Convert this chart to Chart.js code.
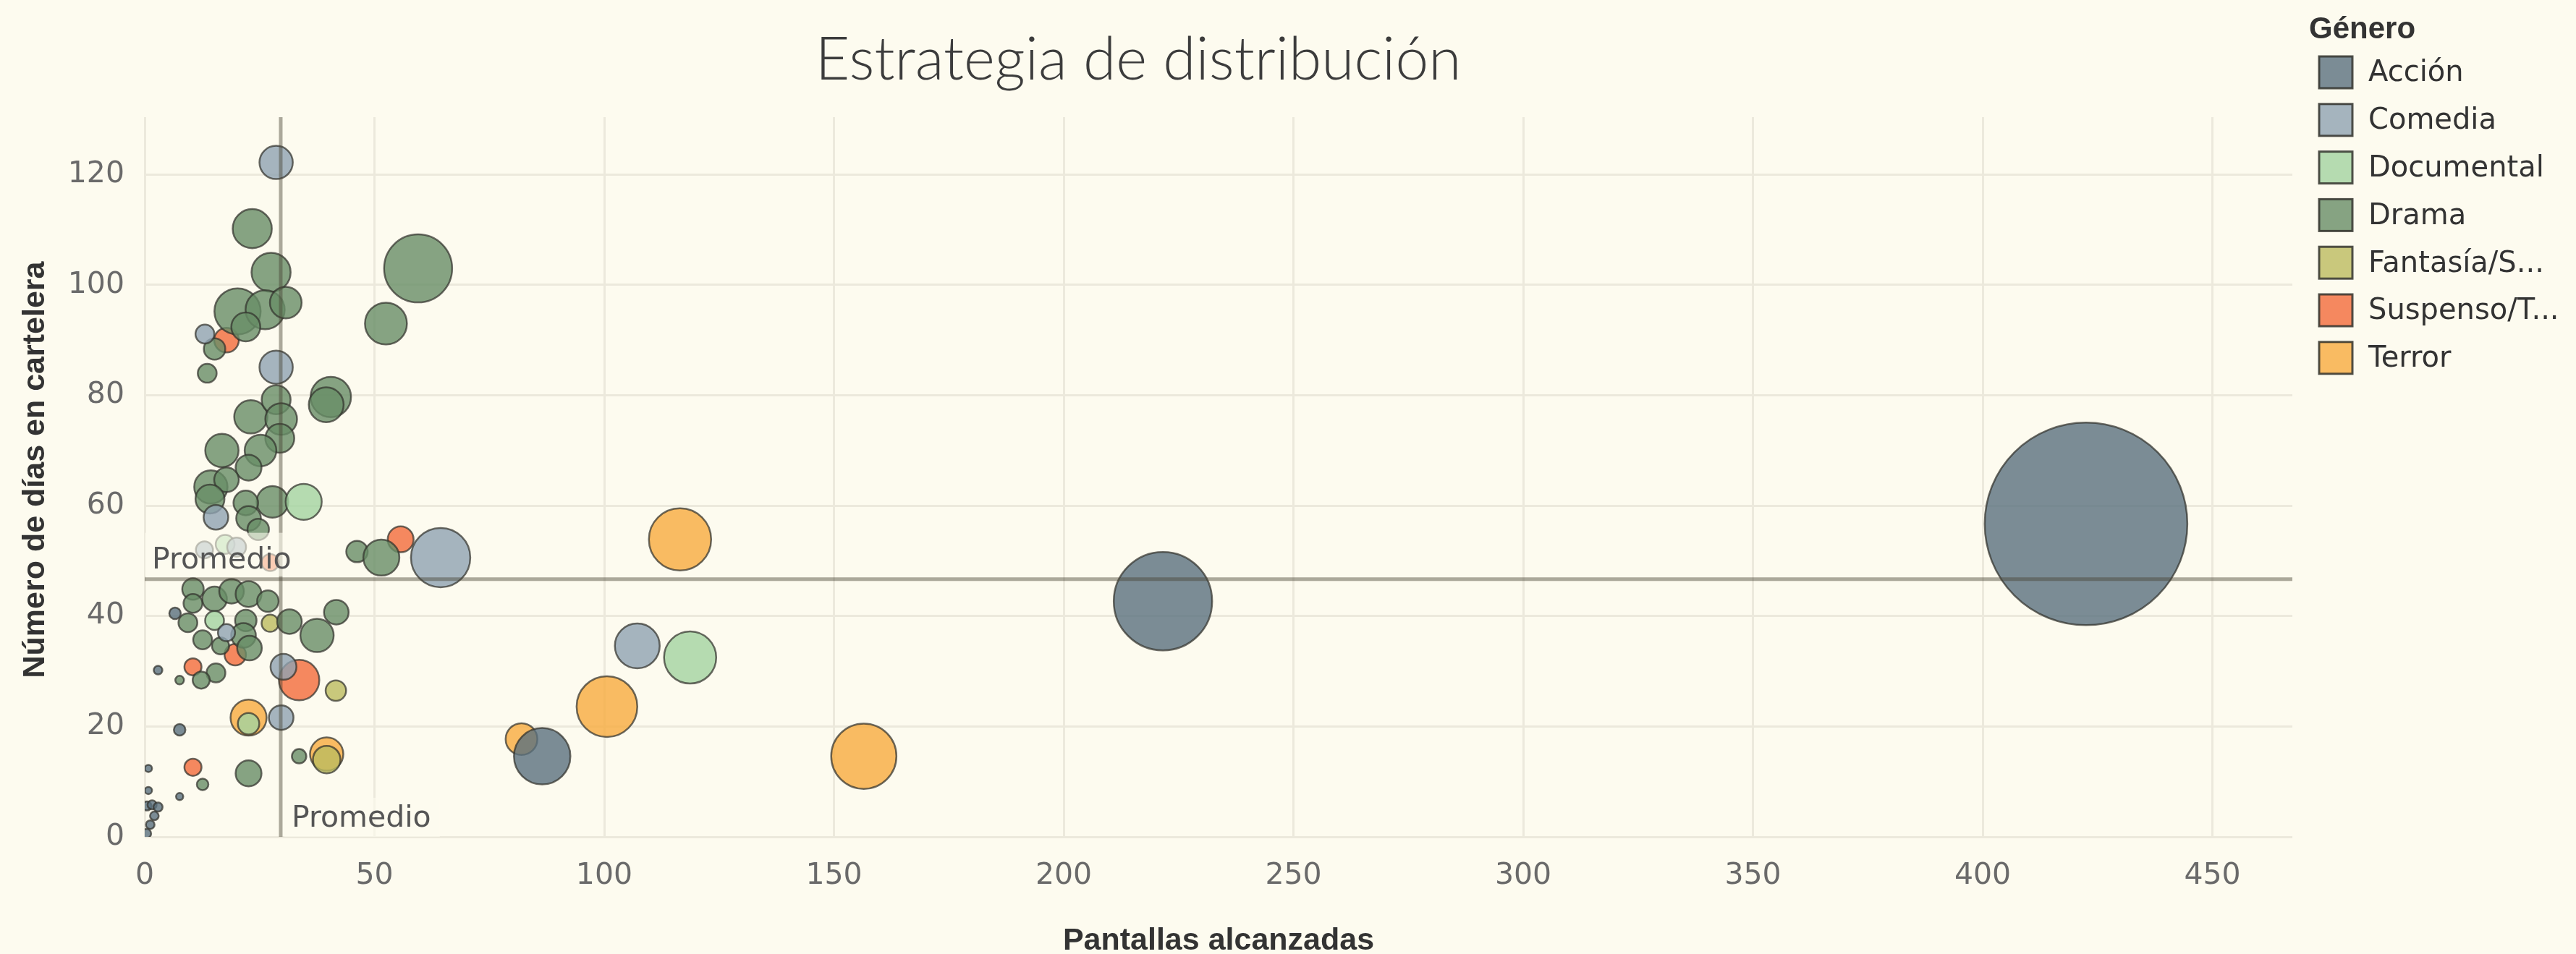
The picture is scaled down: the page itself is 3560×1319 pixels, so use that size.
<!DOCTYPE html>
<html><head><meta charset="utf-8">
<script src="https://cdn.jsdelivr.net/npm/chart.js@4.4.1/dist/chart.umd.min.js"></script>
<style>html,body{margin:0;padding:0;background:#fdfbef;}canvas{display:block;}</style>
</head><body>
<canvas id="c" width="3560" height="1319" style="width:3560px;height:1319px"></canvas>
<script>
// ---- Data ----
const generos = ['Acción', 'Comedia', 'Documental', 'Drama', 'Fantasía/S...', 'Suspenso/T...', 'Terror'];
const colores = ['#5a707e', '#8fa3b1', '#a3d3a0', '#688d67', '#bcbb5f', '#f36c3b', '#f8ab3f'];

// x = Pantallas alcanzadas, y = Número de días en cartelera, tam = medida de tamaño (área de la burbuja)
const accionX = [422.5, 221.6, 86.5, 6.6, 7.6, 2.9, 0.8, 0.8, 7.6, 0.5, 1.6, 2.9, 2.1, 1.2, 0.4];
const accionY = [56.7, 42.7, 14.6, 40.5, 19.4, 30.2, 12.4, 8.4, 7.3, 5.6, 5.8, 5.4, 3.8, 2.2, 0.6];
const accionTam = [1960, 462, 152, 6.4, 6.4, 3.6, 2.5, 2.5, 2.5, 4.0, 4.0, 4.0, 3.6, 3.6, 4.0];

const comediaX = [28.6, 28.6, 13.1, 15.5, 64.4, 107.2, 30.2, 29.7, 17.8, 13.0, 20.0];
const comediaY = [122.2, 85.1, 91.1, 57.9, 50.6, 34.6, 30.8, 21.6, 37.0, 52.0, 52.5];
const comediaTam = [53, 53, 17, 29, 168, 96, 32, 29, 14, 14, 17];

const documentalX = [34.6, 118.7, 22.6, 15.2, 17.5];
const documentalY = [60.7, 32.5, 20.5, 39.2, 53.0];
const documentalTam = [62, 130, 22, 17, 17];

const dramaX = [23.4, 27.5, 20.2, 26.2, 30.7, 22.0, 15.2, 59.5, 52.5, 13.6, 40.5, 39.5, 23.1, 28.6, 29.7, 29.4, 16.8, 25.2, 22.6, 14.4, 17.8, 14.2, 27.8, 22.0, 22.6, 24.7, 46.2, 51.5, 10.5, 15.2, 18.9, 22.6, 26.8, 10.5, 9.4, 22.0, 31.5, 41.7, 37.5, 12.6, 21.5, 16.5, 22.8, 15.5, 12.3, 22.6, 12.6, 7.6, 33.6];
const dramaY = [110.2, 102.3, 95.2, 95.5, 96.8, 92.4, 88.4, 103.0, 93.0, 84.0, 79.7, 78.3, 76.1, 79.2, 75.7, 72.2, 70.0, 70.0, 66.9, 63.4, 64.7, 61.2, 60.7, 60.5, 57.7, 55.7, 51.7, 50.6, 44.9, 43.1, 44.5, 44.0, 42.7, 42.3, 38.8, 39.2, 39.0, 40.7, 36.5, 35.7, 36.5, 34.6, 34.2, 29.7, 28.4, 11.5, 9.5, 28.4, 14.6];
const dramaTam = [73, 73, 102, 73, 48, 40, 22, 221, 84, 17, 78, 58, 53, 40, 48, 40, 53, 48, 32, 53, 29, 40, 48, 29, 29, 22, 22, 62, 22, 29, 29, 32, 22, 17, 17, 22, 29, 29, 53, 17, 29, 14, 29, 17, 14, 32, 6.4, 3.6, 10];

const fantasiaX = [27.3, 41.6, 39.6];
const fantasiaY = [38.7, 26.5, 14.0];
const fantasiaTam = [14, 20, 36];

const suspensoX = [17.8, 55.7, 19.7, 10.5, 33.6, 10.5, 27.3];
const suspensoY = [90.0, 53.9, 33.0, 30.8, 28.4, 12.6, 49.7];
const suspensoTam = [29, 32, 22, 14, 78, 14, 14];

const terrorX = [116.5, 100.6, 82.0, 156.5, 22.6, 39.6];
const terrorY = [53.9, 23.6, 17.7, 14.6, 21.6, 15.0];
const terrorTam = [185, 176, 48, 203, 62, 53];

const promedioX = 29.6;
const promedioY = 46.7;

const xTicks = [0, 50, 100, 150, 200, 250, 300, 350, 400, 450];
const yTicks = [0, 20, 40, 60, 80, 100, 120];

// ---- Build ----
const fondo = '#fdfbef';
function rgba(hex, a) {
  const n = parseInt(hex.slice(1), 16);
  return `rgba(${(n >> 16) & 255},${(n >> 8) & 255},${n & 255},${a})`;
}
function radio(t) { return Math.sqrt(t * 10); }

const series = [
  [accionX, accionY, accionTam],
  [comediaX, comediaY, comediaTam],
  [documentalX, documentalY, documentalTam],
  [dramaX, dramaY, dramaTam],
  [fantasiaX, fantasiaY, fantasiaTam],
  [suspensoX, suspensoY, suspensoTam],
  [terrorX, terrorY, terrorTam]
];

const datasets = series.map((s, k) => ({
  label: generos[k],
  data: s[0].map((v, i) => ({ x: v, y: s[1][i], r: radio(s[2][i]) })),
  backgroundColor: rgba(colores[k], 0.8),
  borderColor: 'rgba(50,50,45,0.72)',
  borderWidth: 2.5,
  hoverBorderWidth: 2.5,
  clip: 0
}));

function fitFont(ctx, text, family, weight, targetW, base) {
  ctx.font = `${weight} ${base}px ${family}`;
  const w = ctx.measureText(text).width;
  const size = Math.max(60, Math.min(100, base * targetW / w));
  return `${weight} ${size.toFixed(1)}px ${family}`;
}

const decor = {
  id: 'decor',
  beforeDraw(chart) {
    const { ctx, width, height } = chart;
    ctx.save();
    ctx.fillStyle = fondo;
    ctx.fillRect(0, 0, width, height);
    ctx.restore();
  },
  afterDatasetsDraw(chart) {
    const { ctx, chartArea: a, scales: { x, y } } = chart;
    const px = x.getPixelForValue(promedioX);
    const py = y.getPixelForValue(promedioY);
    ctx.save();
    ctx.beginPath();
    ctx.rect(a.left, a.top, a.right - a.left, a.bottom - a.top);
    ctx.clip();
    ctx.strokeStyle = 'rgba(70,66,52,0.45)';
    ctx.lineWidth = 5;
    ctx.beginPath(); ctx.moveTo(px, a.top); ctx.lineTo(px, a.bottom); ctx.stroke();
    ctx.beginPath(); ctx.moveTo(a.left, py); ctx.lineTo(a.right, py); ctx.stroke();
    ctx.font = '41px "DejaVu Sans"';
    const w = ctx.measureText('Promedio').width;
    ctx.fillStyle = 'rgba(253,251,239,0.6)';
    ctx.fillRect(a.left, py - 64, w + 22, 60);
    ctx.fillRect(px + 5, a.bottom - 54, w + 22, 54);
    ctx.fillStyle = '#555';
    ctx.textBaseline = 'alphabetic';
    ctx.textAlign = 'left';
    ctx.fillText('Promedio', a.left + 10, py - 15);
    ctx.fillText('Promedio', px + 15, a.bottom - 14);
    ctx.restore();
  },
  afterDraw(chart) {
    const { ctx, chartArea: a } = chart;
    ctx.save();
    // title
    ctx.fillStyle = '#3c3c3c';
    ctx.font = fitFont(ctx, 'Estrategia de distribución', 'Lato, "Liberation Sans"', '300', 893, 84);
    ctx.textAlign = 'center';
    ctx.textBaseline = 'alphabetic';
    ctx.fillText('Estrategia de distribución', 1573, 110);
    // axis titles
    ctx.fillStyle = '#333';
    ctx.font = 'bold 43px "Liberation Sans"';
    ctx.fillText('Pantallas alcanzadas', (a.left + a.right) / 2, 1313);
    ctx.save();
    ctx.translate(61, (a.top + a.bottom) / 2 - 10);
    ctx.rotate(-Math.PI / 2);
    ctx.fillText('Número de días en cartelera', 0, 0);
    ctx.restore();
    // legend
    ctx.textAlign = 'left';
    ctx.font = 'bold 42px "Liberation Sans"';
    ctx.fillText('Género', 3191, 53);
    ctx.font = '40px "DejaVu Sans"';
    ctx.textBaseline = 'middle';
    generos.forEach((g, i) => {
      const cy = 100 + i * 65.8;
      ctx.fillStyle = rgba(colores[i], 0.8);
      ctx.fillRect(3205, cy - 22, 46, 44);
      ctx.strokeStyle = 'rgba(50,50,45,0.85)';
      ctx.lineWidth = 3;
      ctx.strokeRect(3205, cy - 22, 46, 44);
      ctx.fillStyle = '#333';
      ctx.fillText(g, 3273, cy + 2);
    });
    ctx.restore();
  }
};

const gridColor = '#ece9dc';
new Chart(document.getElementById('c'), {
  type: 'bubble',
  data: { datasets },
  plugins: [decor],
  options: {
    responsive: false,
    animation: false,
    devicePixelRatio: 1,
    events: [],
    layout: { padding: { top: 162, right: 392, bottom: 0, left: 0 } },
    plugins: { legend: { display: false }, tooltip: { enabled: false }, title: { display: false } },
    scales: {
      x: {
        type: 'linear', min: 0, max: 467.4,
        afterBuildTicks: s => { s.ticks = xTicks.map(v => ({ value: v })); },
        afterFit: s => { s.height = 162; },
        grid: { color: gridColor, lineWidth: 3, drawTicks: false },
        border: { display: false },
        ticks: { font: { family: 'DejaVu Sans', size: 41 }, color: '#6a6a6a', padding: 30, maxRotation: 0 }
      },
      y: {
        type: 'linear', min: 0, max: 130.4,
        afterBuildTicks: s => { s.ticks = yTicks.map(v => ({ value: v })); },
        afterFit: s => { s.width = 200; },
        grid: { color: gridColor, lineWidth: 3, drawTicks: false },
        border: { display: false },
        ticks: { font: { family: 'DejaVu Sans', size: 41 }, color: '#6a6a6a', padding: 28 }
      }
    }
  }
});
</script>
</body></html>
